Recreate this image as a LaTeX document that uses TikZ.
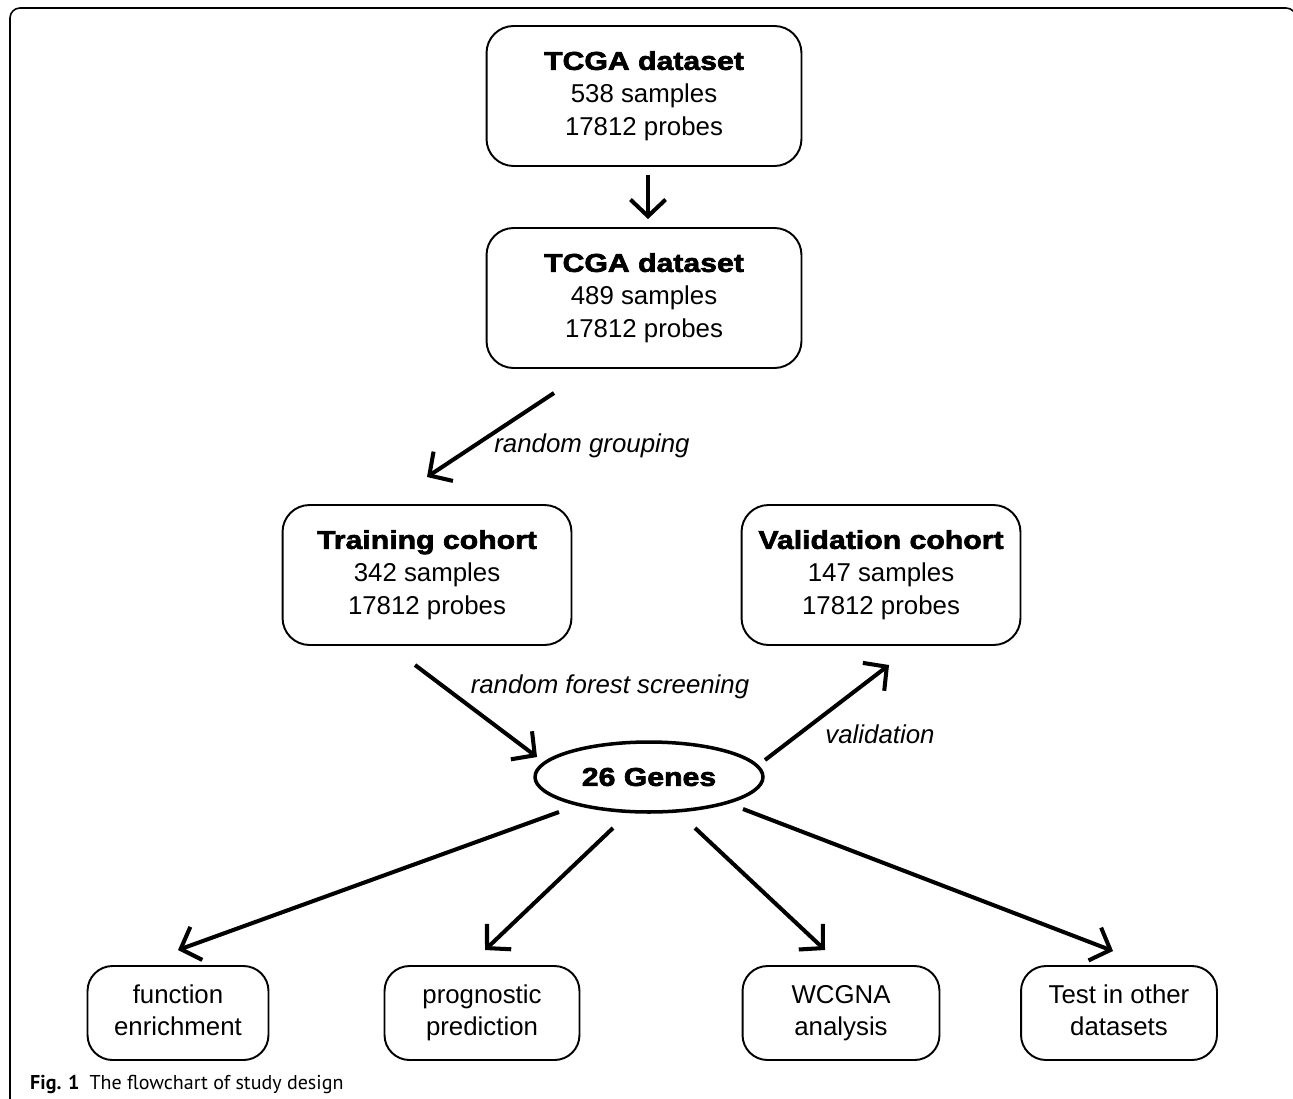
\documentclass[tikz,border=0pt]{standalone}
\usepackage{fontspec}
\setmainfont{Liberation Sans}
\newfontfamily\heavyfont{Liberation Sans}[FakeStretch=1.17,FakeBold=2.5]
\newfontfamily\capfont{PT Sans}
\newcommand{\boxtitle}[1]{{\heavyfont\bfseries #1}}
\usetikzlibrary{arrows.meta,positioning,shapes.geometric}

\begin{document}
\begin{tikzpicture}[x=0.02cm, y=-0.02cm,
                   every node/.style = {align=center,
                   font=\fontsize{14.7}{18.6}\selectfont},
                   databox/.style = {draw, line width=1.1pt,
                   rounded corners=0.54cm, minimum height=2.8cm},
                   taskbox/.style = {draw, line width=1.1pt,
                   rounded corners=0.5cm, minimum height=1.88cm},
                   flow/.style = {line width=2.3pt,
                   -{Straight Barb[length=9.5pt,width=20pt]}},
                   steplabel/.style = {font=\fontsize{14.7}{18}\selectfont\itshape}]
  \clip (0,0) rectangle (1293,1098);
  % outer frame
  \draw[line width=0.9pt, rounded corners=0.2cm]
    (10,1120) -- (10,8) -- (1296,8) -- (1296,1120);

  \node[databox, minimum width=6.3cm] (tcga) at (644,96)
    {\boxtitle{TCGA dataset}\strut\\538 samples\strut\\17812 probes\strut};
  \node[databox, minimum width=6.3cm] (tcgaf) at (644,298)
    {\boxtitle{TCGA dataset}\strut\\489 samples\strut\\17812 probes\strut};
  \node[databox, minimum width=5.78cm] (train) at (427,575)
    {\boxtitle{Training cohort}\strut\\342 samples\strut\\17812 probes\strut};
  \node[databox, minimum width=5.58cm] (valid) at (881,575)
    {\boxtitle{Validation cohort}\strut\\147 samples\strut\\17812 probes\strut};
  \node[draw, ellipse, line width=2pt, minimum width=4.56cm,
        minimum height=1.4cm, inner sep=0pt] (genes) at (649,777)
    {\boxtitle{26 Genes}};

  \node[taskbox, minimum width=3.62cm] (enrich) at (178,1013) {function\strut\\enrichment\strut};
  \node[taskbox, minimum width=3.9cm] (progn) at (482,1013) {prognostic\strut\\prediction\strut};
  \node[taskbox, minimum width=3.94cm] (wcgna) at (841,1013) {WCGNA\strut\\analysis\strut};
  \node[taskbox, minimum width=3.92cm] (other) at (1119,1013) {Test in other\strut\\datasets\strut};

  % arrow ends
  \coordinate (grpA) at (554,393);
  \coordinate (grpB) at (427,477);
  \coordinate (rfA) at (415,665);
  \coordinate (rfB) at (537,757);
  \coordinate (valA) at (765,760);
  \coordinate (valB) at (889,665);
  \coordinate (enrA) at (559,812);
  \coordinate (enrB) at (178,950);
  \coordinate (proA) at (613,828);
  \coordinate (proB) at (485,950);
  \coordinate (wcgA) at (695,828);
  \coordinate (wcgB) at (825,950);
  \coordinate (othA) at (743,809);
  \coordinate (othB) at (1113,951);

  \draw[flow, shorten <=0.16cm, shorten >=0.16cm]
    ([xshift=0.08cm]tcga.south) -- ([xshift=0.08cm]tcgaf.north);
  \draw[flow] (grpA) -- (grpB);
  \draw[flow] (rfA) -- (rfB);
  \draw[flow] (valA) -- (valB);
  \draw[flow] (enrA) -- (enrB);
  \draw[flow] (proA) -- (proB);
  \draw[flow] (wcgA) -- (wcgB);
  \draw[flow] (othA) -- (othB);

  \node[steplabel] (lgroup) at (592,446) {random grouping};
  \node[steplabel] (lforest) at (610,687) {random forest screening};
  \node[steplabel] (lvalid) at (880,734) {validation};

  \node[anchor=base west, font=\capfont\fontsize{11.4}{14}\selectfont] (caption)
    at (24,1089) {\textbf{Fig. 1}\enspace The flowchart of study design};
\end{tikzpicture}
\end{document}
